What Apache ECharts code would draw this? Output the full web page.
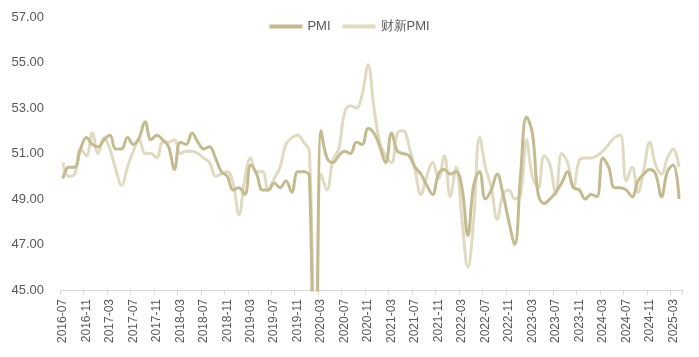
<!DOCTYPE html>
<html>
<head>
<meta charset="utf-8">
<script src="https://cdn.jsdelivr.net/npm/echarts@6/dist/echarts.min.js"></script>
<style>
html,body{margin:0;padding:0;background:#fff;}
#chart{width:699px;height:357px;}
</style>
</head>
<body>
<div id="chart"></div>
<script>
// Months 2016-07 .. 2025-04
var months = [];
(function(){
  var y = 2016, m = 7;
  while (y < 2025 || (y === 2025 && m <= 4)) {
    months.push(y + '-' + (m < 10 ? '0' + m : m));
    m++; if (m > 12) { m = 1; y++; }
  }
})();

var pmi = [
  49.9, 50.4, 50.4, 51.2, 51.7, 51.4,
  51.3, 51.6, 51.8, 51.2, 51.2, 51.7, 51.4, 51.7, 52.4, 51.6, 51.8, 51.6,
  51.3, 50.3, 51.5, 51.4, 51.9, 51.5, 51.2, 51.3, 50.8, 50.2, 50.0, 49.4,
  49.5, 49.2, 50.5, 50.1, 49.4, 49.4, 49.7, 49.5, 49.8, 49.3, 50.2, 50.2,
  50.0, 35.7, 52.0, 50.8, 50.6, 50.9, 51.1, 51.0, 51.5, 51.4, 52.1, 51.9,
  51.3, 50.6, 51.9, 51.1, 51.0, 50.9, 50.4, 50.1, 49.6, 49.2, 50.1, 50.3,
  50.1, 50.2, 49.5, 47.4, 49.6, 50.2, 49.0, 49.4, 50.1, 49.2, 48.0, 47.0,
  50.1, 52.6, 51.9, 49.2, 48.8, 49.0, 49.3, 49.7, 50.2, 49.5, 49.4, 49.0,
  49.2, 49.1, 50.8, 50.4, 49.5, 49.5, 49.4, 49.1, 49.8, 50.1, 50.3, 50.1,
  49.1, 50.2, 50.5, 49.0
];

var caixinPmi = [
  50.6, 50.0, 50.1, 51.2, 50.9, 51.9,
  51.0, 51.7, 51.2, 50.3, 49.6, 50.4, 51.1, 51.6, 51.0, 51.0, 50.8, 51.5,
  51.5, 51.6, 51.0, 51.1, 51.1, 51.0, 50.8, 50.6, 50.0, 50.1, 50.2, 49.7,
  48.3, 49.9, 50.8, 50.2, 50.2, 49.4, 49.9, 50.4, 51.4, 51.7, 51.8, 51.5,
  51.1, 40.3, 50.1, 49.4, 50.7, 51.2, 52.8, 53.1, 53.0, 53.6, 54.9, 53.0,
  51.5, 50.9, 50.6, 51.9, 52.0, 51.3, 50.3, 49.2, 50.0, 50.6, 49.9, 50.9,
  49.1, 50.4, 48.1, 46.0, 48.1, 51.7, 50.4, 49.5, 48.1, 49.2, 49.4, 49.0,
  49.2, 51.6, 50.0, 49.5, 50.9, 50.5, 49.2, 51.0, 50.6, 49.5, 50.7, 50.8,
  50.8, 50.9, 51.1, 51.4, 51.7, 51.8, 49.8, 50.4, 49.3, 50.3, 51.5, 50.5,
  50.1, 50.8, 51.2, 50.4
];

var seriesNames = ['PMI', '财新PMI'];
var colors = ['#C4BA8F', '#E0DAC1'];

var chart = echarts.init(document.getElementById('chart'), null, {renderer: 'canvas'});
chart.setOption({
  animation: false,
  backgroundColor: '#fff',
  color: colors,
  textStyle: {fontFamily: 'Liberation Sans, Arial, sans-serif', color: '#595959'},
  legend: {
    top: 15,
    left: 'center',
    itemWidth: 33,
    itemHeight: 4,
    itemGap: 12,
    icon: 'rect',
    textStyle: {fontSize: 13, color: '#595959'},
    data: seriesNames
  },
  grid: {left: 60, right: 17, top: 17, bottom: 67, containLabel: false},
  xAxis: {
    type: 'category',
    data: months,
    boundaryGap: true,
    axisLine: {lineStyle: {color: '#D9D9D9', width: 1}},
    axisTick: {show: true, interval: 3, length: 5, lineStyle: {color: '#D9D9D9'}},
    axisLabel: {interval: 3, rotate: 90, fontSize: 12, color: '#595959', margin: 9}
  },
  yAxis: {
    type: 'value',
    min: 45,
    max: 57,
    interval: 2,
    axisLine: {show: false},
    axisTick: {show: false},
    splitLine: {show: false},
    axisLabel: {fontSize: 13, color: '#595959', margin: 16,
      formatter: function(v){ return v.toFixed(2); }}
  },
  series: [
    {name: seriesNames[0], type: 'line', data: pmi, smooth: 0.4, symbol: 'none', clip: true,
     lineStyle: {width: 3, color: colors[0]}, z: 3},
    {name: seriesNames[1], type: 'line', data: caixinPmi, smooth: 0.4, symbol: 'none', clip: true,
     lineStyle: {width: 3, color: colors[1]}, z: 2}
  ]
});
</script>
</body>
</html>
